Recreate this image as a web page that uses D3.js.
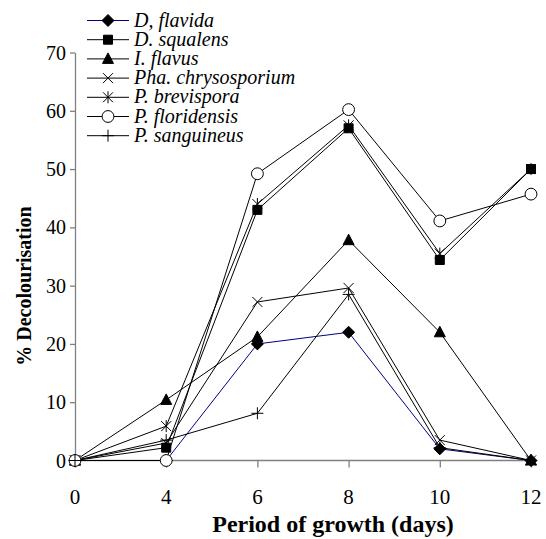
<!DOCTYPE html>
<html>
<head>
<meta charset="utf-8">
<script src="https://cdn.jsdelivr.net/npm/d3@7"></script>
</head>
<body style="margin:0">
<script>
// data
const days = ["0", "4", "6", "8", "10", "12"];
const yTicks = [0, 10, 20, 30, 40, 50, 60, 70];

const seriesNames = ["D, flavida", "D. squalens", "I. flavus", "Pha. chrysosporium",
                     "P. brevispora", "P. floridensis", "P. sanguineus"];
const markers = ["diamond", "square", "triangle", "x", "star", "circle", "plus"];
const lineColors = ["#000080", "#000", "#000", "#000", "#000", "#000", "#000"];

const dFlavida      = [0, 0, 20, 22, 2, 0];
const dSqualens     = [0, 2.2, 43, 57, 34.4, 50];
const iFlavus       = [0, 10.4, 21.2, 37.8, 22, 0];
const phaChryso     = [0, 3, 27.2, 29.6, 3.5, 0];
const pBrevispora   = [0, 5.9, 44, 57.5, 35.5, 50];
const pFloridensis  = [0, 0, 49.2, 60.2, 41.1, 45.7];
const pSanguineus   = [0, 3.5, 8.1, 28.5, 2.2, 0];

const allValues = [dFlavida, dSqualens, iFlavus, phaChryso, pBrevispora, pFloridensis, pSanguineus];

const width = 546, height = 539;
const fontName = "Liberation Serif";

const svg = d3.select("body").append("svg")
  .attr("width", width)
  .attr("height", height)
  .attr("font-family", fontName);

const x = d3.scalePoint()
  .domain(days)
  .range([75, 531]);

const y = d3.scaleLinear()
  .domain([0, 70])
  .range([460.5, 52.5]);

// text helper so every label gets the serif face
function label(parent, str, size, opts = {}) {
  return parent.append("text")
    .attr("font-family", fontName)
    .attr("font-size", size)
    .attr("font-style", opts.italic ? "italic" : "normal")
    .attr("font-weight", opts.bold ? "bold" : "normal")
    .attr("text-anchor", opts.anchor || "start")
    .attr("fill", "#000")
    .text(str);
}

// y axis: line and ticks from the scale, labels drawn by hand
const gy = svg.append("g")
   .attr("transform", "translate(75,0)")
   .call(d3.axisLeft(y).tickValues(yTicks).tickSize(5).tickSizeOuter(0).tickFormat(""));
gy.selectAll("path, line").attr("stroke", "#808080").attr("stroke-width", 1.3);
yTicks.forEach(t => {
  label(gy, t, 20, { anchor: "end" })
    .attr("x", -9)
    .attr("y", y(t) + 7);
});

// x axis
const gx = svg.append("g")
   .attr("transform", "translate(0,460.5)")
   .call(d3.axisBottom(x).tickSize(7).tickSizeOuter(0).tickFormat(""));
gx.select(".domain").attr("d", "M75,0H531");
gx.selectAll("path, line").attr("stroke", "#808080").attr("stroke-width", 1.3);
days.forEach(d => {
  label(gx, d, 21, { anchor: "middle" })
    .attr("x", x(d))
    .attr("y", 43);
});

// marker shapes
function markerPath(type) {
  switch (type) {
    case "diamond": return "M0,-6L6,0L0,6L-6,0Z";
    case "square": return "M-4.5,-4.5H4.5V4.5H-4.5Z";
    case "triangle": return "M0,-6L5.5,4.5H-5.5Z";
    case "x": return "M-5,-5L5,5M5,-5L-5,5";
    case "star": return "M-5,-5L5,5M5,-5L-5,5M0,-6V6";
    case "plus": return "M-6,0H6M0,-6V6";
    case "circle": return d3.symbol(d3.symbolCircle, 110)();
  }
}

function drawMarker(g, type) {
  const open = (type === "x" || type === "star" || type === "plus");
  g.append("path")
   .attr("d", markerPath(type))
   .attr("fill", type === "circle" ? "#fff" : (open ? "none" : "#000"))
   .attr("stroke", "#000")
   .attr("stroke-width", 1);
}

const line = d3.line()
  .x((d, i) => x(days[i]))
  .y(d => y(d));

seriesNames.forEach((name, s) => {
  svg.append("path")
     .datum(allValues[s])
     .attr("d", line)
     .attr("fill", "none")
     .attr("stroke", lineColors[s])
     .attr("stroke-width", 1);
});

seriesNames.forEach((name, s) => {
  allValues[s].forEach((v, i) => {
    const g = svg.append("g")
      .attr("transform", `translate(${x(days[i])},${y(v)})`);
    drawMarker(g, markers[s]);
  });
});

// legend
const legend = svg.append("g");
seriesNames.forEach((name, s) => {
  const cy = 20.5 + s * 19.2;
  const row = legend.append("g").attr("transform", `translate(0,${cy})`);
  row.append("line")
     .attr("x1", 87).attr("x2", 129)
     .attr("y1", 0).attr("y2", 0)
     .attr("stroke", lineColors[s])
     .attr("stroke-width", 1);
  drawMarker(row.append("g").attr("transform", "translate(108,0)"), markers[s]);
  label(row, name, 20, { italic: true })
     .attr("x", 134)
     .attr("y", 6);
});

// titles
label(svg, "Period of growth (days)", 24, { bold: true, anchor: "middle" })
   .attr("x", 333)
   .attr("y", 532);

label(svg, "% Decolourisation", 20, { bold: true, anchor: "middle" })
   .attr("transform", "translate(31,286) rotate(-90)");
</script>
</body>
</html>
